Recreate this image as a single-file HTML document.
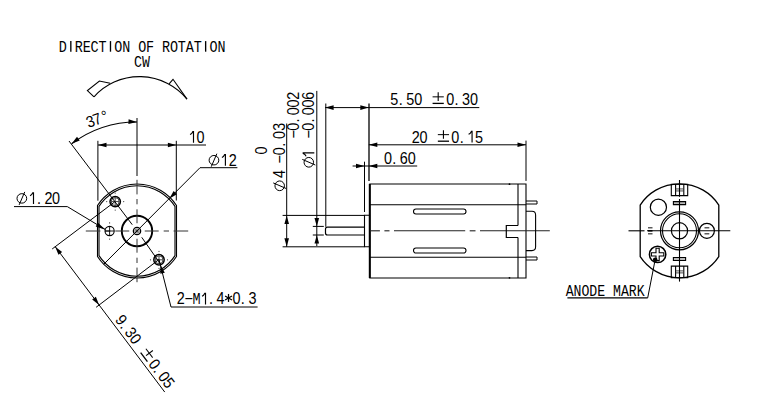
<!DOCTYPE html>
<html><head><meta charset="utf-8"><style>
html,body{margin:0;padding:0;background:#fff;width:774px;height:400px;overflow:hidden}
svg{display:block}
text{fill:#000}
</style></head><body>
<svg width="774" height="400" viewBox="0 0 774 400">
<rect width="774" height="400" fill="#fff"/>
<g transform="translate(0.00,51.70)"><text transform="translate(62.90,0) scale(0.84,1)" x="0" y="0" font-size="16" text-anchor="middle" font-family="Liberation Mono, monospace">D</text><line x1="70.83" y1="-10.6" x2="70.83" y2="0" stroke="#000" stroke-width="1.35"/><text transform="translate(78.76,0) scale(0.84,1)" x="0" y="0" font-size="16" text-anchor="middle" font-family="Liberation Mono, monospace">R</text><text transform="translate(86.69,0) scale(0.84,1)" x="0" y="0" font-size="16" text-anchor="middle" font-family="Liberation Mono, monospace">E</text><text transform="translate(94.62,0) scale(0.84,1)" x="0" y="0" font-size="16" text-anchor="middle" font-family="Liberation Mono, monospace">C</text><text transform="translate(102.55,0) scale(0.84,1)" x="0" y="0" font-size="16" text-anchor="middle" font-family="Liberation Mono, monospace">T</text><line x1="110.48" y1="-10.6" x2="110.48" y2="0" stroke="#000" stroke-width="1.35"/><text transform="translate(118.41,0) scale(0.84,1)" x="0" y="0" font-size="16" text-anchor="middle" font-family="Liberation Mono, monospace">O</text><text transform="translate(126.34,0) scale(0.84,1)" x="0" y="0" font-size="16" text-anchor="middle" font-family="Liberation Mono, monospace">N</text><text transform="translate(142.20,0) scale(0.84,1)" x="0" y="0" font-size="16" text-anchor="middle" font-family="Liberation Mono, monospace">O</text><text transform="translate(150.13,0) scale(0.84,1)" x="0" y="0" font-size="16" text-anchor="middle" font-family="Liberation Mono, monospace">F</text><text transform="translate(165.99,0) scale(0.84,1)" x="0" y="0" font-size="16" text-anchor="middle" font-family="Liberation Mono, monospace">R</text><text transform="translate(173.92,0) scale(0.84,1)" x="0" y="0" font-size="16" text-anchor="middle" font-family="Liberation Mono, monospace">O</text><text transform="translate(181.85,0) scale(0.84,1)" x="0" y="0" font-size="16" text-anchor="middle" font-family="Liberation Mono, monospace">T</text><text transform="translate(189.78,0) scale(0.84,1)" x="0" y="0" font-size="16" text-anchor="middle" font-family="Liberation Mono, monospace">A</text><text transform="translate(197.71,0) scale(0.84,1)" x="0" y="0" font-size="16" text-anchor="middle" font-family="Liberation Mono, monospace">T</text><line x1="205.64" y1="-10.6" x2="205.64" y2="0" stroke="#000" stroke-width="1.35"/><text transform="translate(213.57,0) scale(0.84,1)" x="0" y="0" font-size="16" text-anchor="middle" font-family="Liberation Mono, monospace">O</text><text transform="translate(221.50,0) scale(0.84,1)" x="0" y="0" font-size="16" text-anchor="middle" font-family="Liberation Mono, monospace">N</text></g>
<text x="134.00" y="66.90" font-size="16" text-anchor="start" font-family="Liberation Mono, monospace" textLength="15.9" lengthAdjust="spacingAndGlyphs" >CW</text>
<path d="M94,96.8 A61.36,61.36 0 0 1 187,99.1" stroke="#000" stroke-width="1.1" fill="none" />
<path d="M94,96.8 L87.4,90.6 L99.4,81 L110.2,83.3" stroke="#000" stroke-width="1.1" fill="none" />
<path d="M169.1,83.9 L173,79.3 L187,99.1" stroke="#000" stroke-width="1.1" fill="none" />
<path d="M97.50,205.53 A47,47 0 0 1 176.50,205.53 L176.50,256.47 A47,47 0 0 1 97.50,256.47 Z" stroke="#000" stroke-width="1.1" fill="none" />
<path d="M99.00,206.34 A45.3,45.3 0 0 1 175.00,206.34 L175.00,255.66 A45.3,45.3 0 0 1 99.00,255.66 Z" stroke="#000" stroke-width="1.1" fill="none" />
<circle cx="137.00" cy="231.00" r="15.20" stroke="#000" stroke-width="1.9" fill="none" />
<circle cx="137.00" cy="231.00" r="3.60" stroke="#000" stroke-width="1.4" fill="none" />
<circle cx="137.00" cy="231.00" r="2.00" stroke="#444" stroke-width="0.8" fill="none" />
<circle cx="137.00" cy="231.00" r="0.90" stroke="#000" stroke-width="0" fill="#000" />
<line x1="129.25" y1="231.00" x2="115.30" y2="231.00" stroke="#333" stroke-width="1" />
<line x1="137.00" y1="223.25" x2="137.00" y2="209.30" stroke="#333" stroke-width="1" />
<line x1="144.75" y1="231.00" x2="158.70" y2="231.00" stroke="#333" stroke-width="1" />
<line x1="137.00" y1="238.75" x2="137.00" y2="252.70" stroke="#333" stroke-width="1" />
<line x1="110.30" y1="231.00" x2="105.00" y2="231.00" stroke="#333" stroke-width="1" />
<line x1="137.00" y1="204.30" x2="137.00" y2="199.00" stroke="#333" stroke-width="1" />
<line x1="163.70" y1="231.00" x2="169.00" y2="231.00" stroke="#333" stroke-width="1" />
<line x1="137.00" y1="257.70" x2="137.00" y2="263.00" stroke="#333" stroke-width="1" />
<line x1="100.40" y1="231.00" x2="85.80" y2="231.00" stroke="#333" stroke-width="1" />
<line x1="137.00" y1="194.40" x2="137.00" y2="179.80" stroke="#333" stroke-width="1" />
<line x1="173.60" y1="231.00" x2="188.20" y2="231.00" stroke="#333" stroke-width="1" />
<line x1="137.00" y1="267.60" x2="137.00" y2="282.20" stroke="#333" stroke-width="1" />
<line x1="137.00" y1="118.00" x2="137.00" y2="176.00" stroke="#000" stroke-width="1" />
<circle cx="115.20" cy="201.60" r="5.20" stroke="#000" stroke-width="1.5" fill="none" />
<circle cx="115.20" cy="201.60" r="4.00" stroke="#444" stroke-width="1.0" fill="none" />
<line x1="111.00" y1="201.60" x2="119.40" y2="201.60" stroke="#444" stroke-width="1" />
<line x1="115.20" y1="197.40" x2="115.20" y2="205.80" stroke="#444" stroke-width="1" />
<circle cx="123.70" cy="201.60" r="0.60" stroke="#000" stroke-width="0" fill="#333" />
<circle cx="106.70" cy="201.60" r="0.60" stroke="#000" stroke-width="0" fill="#333" />
<circle cx="115.20" cy="210.10" r="0.60" stroke="#000" stroke-width="0" fill="#333" />
<circle cx="115.20" cy="193.10" r="0.60" stroke="#000" stroke-width="0" fill="#333" />
<circle cx="159.00" cy="259.80" r="5.20" stroke="#000" stroke-width="1.5" fill="none" />
<circle cx="159.00" cy="259.80" r="4.00" stroke="#444" stroke-width="1.0" fill="none" />
<line x1="154.80" y1="259.80" x2="163.20" y2="259.80" stroke="#444" stroke-width="1" />
<line x1="159.00" y1="255.60" x2="159.00" y2="264.00" stroke="#444" stroke-width="1" />
<circle cx="167.50" cy="259.80" r="0.60" stroke="#000" stroke-width="0" fill="#333" />
<circle cx="150.50" cy="259.80" r="0.60" stroke="#000" stroke-width="0" fill="#333" />
<circle cx="159.00" cy="268.30" r="0.60" stroke="#000" stroke-width="0" fill="#333" />
<circle cx="159.00" cy="251.30" r="0.60" stroke="#000" stroke-width="0" fill="#333" />
<circle cx="109.60" cy="231.00" r="4.60" stroke="#000" stroke-width="1.1" fill="none" />
<line x1="105.00" y1="231.00" x2="114.20" y2="231.00" stroke="#000" stroke-width="0.9" />
<line x1="109.60" y1="226.40" x2="109.60" y2="235.60" stroke="#000" stroke-width="0.9" />
<circle cx="109.60" cy="222.90" r="0.60" stroke="#000" stroke-width="0" fill="#333" />
<circle cx="109.60" cy="239.10" r="0.60" stroke="#000" stroke-width="0" fill="#333" />
<line x1="69.00" y1="141.00" x2="132.26" y2="224.68" stroke="#000" stroke-width="1" />
<line x1="141.74" y1="237.32" x2="160.50" y2="264.00" stroke="#000" stroke-width="1" />
<path d="M137,122 A109,109 0 0 0 71.60,143.80" stroke="#000" stroke-width="1.1" fill="none" />
<path d="M137.00,122.00 L128.41,123.96 L128.60,119.36 Z" fill="#000"/>
<path d="M71.60,143.80 L77.02,136.86 L79.78,140.54 Z" fill="#000"/>
<line x1="97.90" y1="140.80" x2="97.90" y2="200.70" stroke="#000" stroke-width="1" />
<line x1="176.30" y1="140.80" x2="176.30" y2="200.50" stroke="#000" stroke-width="1" />
<line x1="98.00" y1="145.00" x2="206.00" y2="145.00" stroke="#000" stroke-width="1" />
<path d="M98.00,145.00 L106.50,142.70 L106.50,147.30 Z" fill="#000"/>
<path d="M176.40,145.00 L167.90,147.30 L167.90,142.70 Z" fill="#000"/>
<g transform="translate(0.00,142.75)"><path d="M193.50,0 V-11.1 L192.80,-11.1 Q191.80,-8.9 190.00,-8.2" stroke="#000" stroke-width="1.15" fill="none"/><text transform="translate(200.60,0) scale(0.9,1)" x="0" y="0" font-size="16.0" text-anchor="middle" font-family="Liberation Sans, sans-serif">0</text></g>
<line x1="200.00" y1="167.70" x2="237.40" y2="167.70" stroke="#000" stroke-width="1" />
<line x1="200.00" y1="167.70" x2="103.77" y2="264.23" stroke="#000" stroke-width="1" />
<path d="M169.24,198.76 L173.63,191.12 L176.88,194.37 Z" fill="#000"/>
<g transform="translate(0.00,165.70)"><ellipse cx="213.95" cy="-5.5" rx="4.85" ry="4.75" fill="none" stroke="#000" stroke-width="1.0"/><line x1="211.25" y1="1.0" x2="216.85" y2="-12.0" stroke="#000" stroke-width="1.0"/><path d="M225.40,0 V-11.1 L224.70,-11.1 Q223.70,-8.9 221.90,-8.2" stroke="#000" stroke-width="1.15" fill="none"/><text transform="translate(232.85,0) scale(0.9,1)" x="0" y="0" font-size="16.0" text-anchor="middle" font-family="Liberation Sans, sans-serif">2</text></g>
<line x1="14.00" y1="206.60" x2="67.30" y2="206.60" stroke="#000" stroke-width="1" />
<line x1="67.30" y1="206.60" x2="105.00" y2="229.30" stroke="#000" stroke-width="1" />
<path d="M105.40,229.80 L95.70,226.53 L97.97,222.76 Z" fill="#000"/>
<g transform="translate(0.00,203.90)"><ellipse cx="21.85" cy="-5.5" rx="4.85" ry="4.75" fill="none" stroke="#000" stroke-width="1.0"/><line x1="19.15" y1="1.0" x2="24.75" y2="-12.0" stroke="#000" stroke-width="1.0"/><path d="M33.50,0 V-11.1 L32.80,-11.1 Q31.80,-8.9 30.00,-8.2" stroke="#000" stroke-width="1.15" fill="none"/><text transform="translate(39.10,0) scale(0.9,1)" x="0" y="0" font-size="16.0" text-anchor="middle" font-family="Liberation Sans, sans-serif">.</text><text transform="translate(48.60,0) scale(0.9,1)" x="0" y="0" font-size="16.0" text-anchor="middle" font-family="Liberation Sans, sans-serif">2</text><text transform="translate(56.10,0) scale(0.9,1)" x="0" y="0" font-size="16.0" text-anchor="middle" font-family="Liberation Sans, sans-serif">0</text></g>
<line x1="55.20" y1="246.70" x2="164.73" y2="392.05" stroke="#000" stroke-width="1" />
<line x1="52.17" y1="248.99" x2="114.80" y2="201.80" stroke="#000" stroke-width="1" />
<line x1="96.10" y1="307.29" x2="159.00" y2="259.50" stroke="#000" stroke-width="1" />
<path d="M55.20,246.70 L62.15,252.10 L58.48,254.87 Z" fill="#000"/>
<path d="M99.13,305.00 L92.18,299.60 L95.85,296.83 Z" fill="#000"/>
<g transform="translate(55.20,246.70) rotate(53.000)"><g transform="translate(0.00,-3.20)"><text transform="translate(98.20,0) scale(0.9,1)" x="0" y="0" font-size="16.0" text-anchor="middle" font-family="Liberation Sans, sans-serif">9</text><text transform="translate(104.50,0) scale(0.9,1)" x="0" y="0" font-size="16.0" text-anchor="middle" font-family="Liberation Sans, sans-serif">.</text><text transform="translate(114.00,0) scale(0.9,1)" x="0" y="0" font-size="16.0" text-anchor="middle" font-family="Liberation Sans, sans-serif">3</text><text transform="translate(121.90,0) scale(0.9,1)" x="0" y="0" font-size="16.0" text-anchor="middle" font-family="Liberation Sans, sans-serif">0</text><line x1="136.05" y1="-7.85" x2="147.25" y2="-7.85" stroke="#000" stroke-width="1"/><line x1="141.65" y1="-12.35" x2="141.65" y2="-3.8" stroke="#000" stroke-width="1.1"/><line x1="136.05" y1="-1.3" x2="147.25" y2="-1.3" stroke="#000" stroke-width="1.3"/><text transform="translate(153.50,0) scale(0.9,1)" x="0" y="0" font-size="16.0" text-anchor="middle" font-family="Liberation Sans, sans-serif">0</text><text transform="translate(159.80,0) scale(0.9,1)" x="0" y="0" font-size="16.0" text-anchor="middle" font-family="Liberation Sans, sans-serif">.</text><text transform="translate(169.30,0) scale(0.9,1)" x="0" y="0" font-size="16.0" text-anchor="middle" font-family="Liberation Sans, sans-serif">0</text><text transform="translate(177.20,0) scale(0.9,1)" x="0" y="0" font-size="16.0" text-anchor="middle" font-family="Liberation Sans, sans-serif">5</text></g></g>
<g transform="translate(89.40,127.60) rotate(-20.000)"><text transform="translate(3.00,0) scale(0.9,1)" x="0" y="0" font-size="16.0" text-anchor="middle" font-family="Liberation Sans, sans-serif">3</text><text transform="translate(10.30,0) scale(0.9,1)" x="0" y="0" font-size="16.0" text-anchor="middle" font-family="Liberation Sans, sans-serif">7</text><text transform="translate(18.40,0) scale(0.9,1)" x="0" y="0" font-size="16.0" text-anchor="middle" font-family="Liberation Sans, sans-serif">°</text></g>
<line x1="159.00" y1="259.50" x2="171.00" y2="307.00" stroke="#000" stroke-width="1" />
<line x1="171.00" y1="307.00" x2="257.60" y2="307.00" stroke="#000" stroke-width="1" />
<path d="M160.50,265.00 L164.81,272.68 L160.35,273.80 Z" fill="#000"/>
<g transform="translate(0.00,304.40)"><text transform="translate(180.70,0) scale(0.9,1)" x="0" y="0" font-size="16.0" text-anchor="middle" font-family="Liberation Sans, sans-serif">2</text><text transform="translate(188.67,0) scale(0.9,1)" x="0" y="0" font-size="16.0" text-anchor="middle" font-family="Liberation Sans, sans-serif">−</text><text transform="translate(196.64,0) scale(0.84,1)" x="0" y="0" font-size="16" text-anchor="middle" font-family="Liberation Mono, monospace">M</text><path d="M205.51,0 V-11.1 L204.81,-11.1 Q203.81,-8.9 202.01,-8.2" stroke="#000" stroke-width="1.15" fill="none"/><text transform="translate(210.98,0) scale(0.9,1)" x="0" y="0" font-size="16.0" text-anchor="middle" font-family="Liberation Sans, sans-serif">.</text><text transform="translate(220.55,0) scale(0.9,1)" x="0" y="0" font-size="16.0" text-anchor="middle" font-family="Liberation Sans, sans-serif">4</text><line x1="228.52" y1="-10.45" x2="228.52" y2="-2.45" stroke="#000" stroke-width="1.25"/><line x1="225.06" y1="-8.45" x2="231.98" y2="-4.45" stroke="#000" stroke-width="1.25"/><line x1="231.98" y1="-8.45" x2="225.06" y2="-4.45" stroke="#000" stroke-width="1.25"/><text transform="translate(236.49,0) scale(0.9,1)" x="0" y="0" font-size="16.0" text-anchor="middle" font-family="Liberation Sans, sans-serif">0</text><text transform="translate(242.86,0) scale(0.9,1)" x="0" y="0" font-size="16.0" text-anchor="middle" font-family="Liberation Sans, sans-serif">.</text><text transform="translate(252.43,0) scale(0.9,1)" x="0" y="0" font-size="16.0" text-anchor="middle" font-family="Liberation Sans, sans-serif">3</text></g>
<line x1="286.70" y1="123.50" x2="286.70" y2="246.80" stroke="#000" stroke-width="1" />
<path d="M286.70,215.40 L289.00,223.90 L284.40,223.90 Z" fill="#000"/>
<path d="M286.70,246.80 L284.40,238.30 L289.00,238.30 Z" fill="#000"/>
<line x1="282.60" y1="215.40" x2="364.50" y2="215.40" stroke="#000" stroke-width="1" />
<line x1="282.60" y1="246.80" x2="364.50" y2="246.80" stroke="#000" stroke-width="1" />
<line x1="316.80" y1="90.90" x2="316.80" y2="246.00" stroke="#000" stroke-width="1" />
<path d="M316.80,226.40 L314.50,217.90 L319.10,217.90 Z" fill="#000"/>
<path d="M316.80,235.00 L319.10,243.50 L314.50,243.50 Z" fill="#000"/>
<line x1="312.80" y1="226.40" x2="323.80" y2="226.40" stroke="#000" stroke-width="1" />
<line x1="312.80" y1="235.00" x2="323.80" y2="235.00" stroke="#000" stroke-width="1" />
<line x1="325.80" y1="103.50" x2="325.80" y2="226.80" stroke="#000" stroke-width="1" />
<g transform="translate(285.20,200.00) rotate(-90.000)"><text transform="translate(40.60,0) scale(0.9,1)" x="0" y="0" font-size="16.0" text-anchor="middle" font-family="Liberation Sans, sans-serif">−</text><text transform="translate(48.75,0) scale(0.9,1)" x="0" y="0" font-size="16.0" text-anchor="middle" font-family="Liberation Sans, sans-serif">0</text><text transform="translate(55.30,0) scale(0.9,1)" x="0" y="0" font-size="16.0" text-anchor="middle" font-family="Liberation Sans, sans-serif">.</text><text transform="translate(65.05,0) scale(0.9,1)" x="0" y="0" font-size="16.0" text-anchor="middle" font-family="Liberation Sans, sans-serif">0</text><text transform="translate(73.20,0) scale(0.9,1)" x="0" y="0" font-size="16.0" text-anchor="middle" font-family="Liberation Sans, sans-serif">3</text><ellipse cx="14.20" cy="-5.5" rx="4.85" ry="4.75" fill="none" stroke="#000" stroke-width="1.0"/><line x1="11.50" y1="1.0" x2="17.10" y2="-12.0" stroke="#000" stroke-width="1.0"/><text transform="translate(26.00,0) scale(0.9,1)" x="0" y="0" font-size="16.0" text-anchor="middle" font-family="Liberation Sans, sans-serif">4</text></g>
<g transform="translate(266.60,200.00) rotate(-90.000)"><text transform="translate(49.40,0) scale(0.9,1)" x="0" y="0" font-size="16.0" text-anchor="middle" font-family="Liberation Sans, sans-serif">0</text></g>
<g transform="translate(299.20,200.00) rotate(-90.000)"><text transform="translate(65.60,0) scale(0.9,1)" x="0" y="0" font-size="16.0" text-anchor="middle" font-family="Liberation Sans, sans-serif">−</text><text transform="translate(73.34,0) scale(0.9,1)" x="0" y="0" font-size="16.0" text-anchor="middle" font-family="Liberation Sans, sans-serif">0</text><text transform="translate(79.48,0) scale(0.9,1)" x="0" y="0" font-size="16.0" text-anchor="middle" font-family="Liberation Sans, sans-serif">.</text><text transform="translate(88.82,0) scale(0.9,1)" x="0" y="0" font-size="16.0" text-anchor="middle" font-family="Liberation Sans, sans-serif">0</text><text transform="translate(96.56,0) scale(0.9,1)" x="0" y="0" font-size="16.0" text-anchor="middle" font-family="Liberation Sans, sans-serif">0</text><text transform="translate(104.30,0) scale(0.9,1)" x="0" y="0" font-size="16.0" text-anchor="middle" font-family="Liberation Sans, sans-serif">2</text></g>
<g transform="translate(314.30,200.00) rotate(-90.000)"><text transform="translate(65.60,0) scale(0.9,1)" x="0" y="0" font-size="16.0" text-anchor="middle" font-family="Liberation Sans, sans-serif">−</text><text transform="translate(73.34,0) scale(0.9,1)" x="0" y="0" font-size="16.0" text-anchor="middle" font-family="Liberation Sans, sans-serif">0</text><text transform="translate(79.48,0) scale(0.9,1)" x="0" y="0" font-size="16.0" text-anchor="middle" font-family="Liberation Sans, sans-serif">.</text><text transform="translate(88.82,0) scale(0.9,1)" x="0" y="0" font-size="16.0" text-anchor="middle" font-family="Liberation Sans, sans-serif">0</text><text transform="translate(96.56,0) scale(0.9,1)" x="0" y="0" font-size="16.0" text-anchor="middle" font-family="Liberation Sans, sans-serif">0</text><text transform="translate(104.30,0) scale(0.9,1)" x="0" y="0" font-size="16.0" text-anchor="middle" font-family="Liberation Sans, sans-serif">6</text><ellipse cx="37.70" cy="-5.5" rx="4.85" ry="4.75" fill="none" stroke="#000" stroke-width="1.0"/><line x1="35.00" y1="1.0" x2="40.60" y2="-12.0" stroke="#000" stroke-width="1.0"/><path d="M47.20,0 V-11.1 L46.50,-11.1 Q45.50,-8.9 43.70,-8.2" stroke="#000" stroke-width="1.15" fill="none"/></g>
<path d="M364.5,227.2 L327.5,227.2 Q325.5,227.2 325.5,229.2 L325.5,233 Q325.5,235 327.5,235 L364.5,235" stroke="#000" stroke-width="1.2" fill="none" />
<path d="M364.5,215.3 L369.5,215.3 L369.5,246.8 L364.5,246.8 Z" stroke="#000" stroke-width="1.1" fill="none" />
<line x1="364.50" y1="161.70" x2="364.50" y2="212.00" stroke="#000" stroke-width="1" />
<line x1="369.00" y1="103.60" x2="369.00" y2="181.00" stroke="#000" stroke-width="1.3" />
<line x1="325.10" y1="107.60" x2="479.30" y2="107.60" stroke="#000" stroke-width="1" />
<path d="M325.10,107.60 L333.60,105.30 L333.60,109.90 Z" fill="#000"/>
<path d="M368.80,107.60 L360.30,109.90 L360.30,105.30 Z" fill="#000"/>
<g transform="translate(0.00,104.70)"><text transform="translate(394.35,0) scale(0.9,1)" x="0" y="0" font-size="16.0" text-anchor="middle" font-family="Liberation Sans, sans-serif">5</text><text transform="translate(400.72,0) scale(0.9,1)" x="0" y="0" font-size="16.0" text-anchor="middle" font-family="Liberation Sans, sans-serif">.</text><text transform="translate(410.29,0) scale(0.9,1)" x="0" y="0" font-size="16.0" text-anchor="middle" font-family="Liberation Sans, sans-serif">5</text><text transform="translate(418.26,0) scale(0.9,1)" x="0" y="0" font-size="16.0" text-anchor="middle" font-family="Liberation Sans, sans-serif">0</text><line x1="432.58" y1="-7.85" x2="443.79" y2="-7.85" stroke="#000" stroke-width="1"/><line x1="438.19" y1="-12.35" x2="438.19" y2="-3.8" stroke="#000" stroke-width="1.1"/><line x1="432.58" y1="-1.3" x2="443.79" y2="-1.3" stroke="#000" stroke-width="1.3"/><text transform="translate(450.14,0) scale(0.9,1)" x="0" y="0" font-size="16.0" text-anchor="middle" font-family="Liberation Sans, sans-serif">0</text><text transform="translate(456.51,0) scale(0.9,1)" x="0" y="0" font-size="16.0" text-anchor="middle" font-family="Liberation Sans, sans-serif">.</text><text transform="translate(466.08,0) scale(0.9,1)" x="0" y="0" font-size="16.0" text-anchor="middle" font-family="Liberation Sans, sans-serif">3</text><text transform="translate(474.05,0) scale(0.9,1)" x="0" y="0" font-size="16.0" text-anchor="middle" font-family="Liberation Sans, sans-serif">0</text></g>
<line x1="368.80" y1="144.80" x2="526.00" y2="144.80" stroke="#000" stroke-width="1" />
<path d="M368.80,144.80 L377.30,142.50 L377.30,147.10 Z" fill="#000"/>
<path d="M526.00,144.80 L517.50,147.10 L517.50,142.50 Z" fill="#000"/>
<g transform="translate(0.00,142.50)"><text transform="translate(415.70,0) scale(0.9,1)" x="0" y="0" font-size="16.0" text-anchor="middle" font-family="Liberation Sans, sans-serif">2</text><text transform="translate(423.62,0) scale(0.9,1)" x="0" y="0" font-size="16.0" text-anchor="middle" font-family="Liberation Sans, sans-serif">0</text><line x1="437.84" y1="-7.85" x2="449.04" y2="-7.85" stroke="#000" stroke-width="1"/><line x1="443.44" y1="-12.35" x2="443.44" y2="-3.8" stroke="#000" stroke-width="1.1"/><line x1="437.84" y1="-1.3" x2="449.04" y2="-1.3" stroke="#000" stroke-width="1.3"/><text transform="translate(455.32,0) scale(0.9,1)" x="0" y="0" font-size="16.0" text-anchor="middle" font-family="Liberation Sans, sans-serif">0</text><text transform="translate(461.65,0) scale(0.9,1)" x="0" y="0" font-size="16.0" text-anchor="middle" font-family="Liberation Sans, sans-serif">.</text><path d="M472.07,0 V-11.1 L471.38,-11.1 Q470.38,-8.9 468.57,-8.2" stroke="#000" stroke-width="1.15" fill="none"/><text transform="translate(479.10,0) scale(0.9,1)" x="0" y="0" font-size="16.0" text-anchor="middle" font-family="Liberation Sans, sans-serif">5</text></g>
<line x1="352.60" y1="166.00" x2="417.20" y2="166.00" stroke="#000" stroke-width="1" />
<path d="M364.50,166.00 L356.00,168.30 L356.00,163.70 Z" fill="#000"/>
<path d="M368.80,166.00 L377.30,163.70 L377.30,168.30 Z" fill="#000"/>
<g transform="translate(0.00,163.80)"><text transform="translate(387.90,0) scale(0.9,1)" x="0" y="0" font-size="16.0" text-anchor="middle" font-family="Liberation Sans, sans-serif">0</text><text transform="translate(394.27,0) scale(0.9,1)" x="0" y="0" font-size="16.0" text-anchor="middle" font-family="Liberation Sans, sans-serif">.</text><text transform="translate(403.84,0) scale(0.9,1)" x="0" y="0" font-size="16.0" text-anchor="middle" font-family="Liberation Sans, sans-serif">6</text><text transform="translate(411.81,0) scale(0.9,1)" x="0" y="0" font-size="16.0" text-anchor="middle" font-family="Liberation Sans, sans-serif">0</text></g>
<line x1="526.00" y1="140.60" x2="526.00" y2="180.90" stroke="#000" stroke-width="1" />
<path d="M369.8,184 L526,184 L526,278 L369.8,278 Z" stroke="#000" stroke-width="1.1" fill="none" />
<circle cx="509.50" cy="184.20" r="0.90" stroke="#000" stroke-width="0" fill="#000" />
<circle cx="509.50" cy="277.80" r="0.90" stroke="#000" stroke-width="0" fill="#000" />
<line x1="369.80" y1="184.00" x2="369.80" y2="278.00" stroke="#000" stroke-width="2" />
<line x1="518.00" y1="184.00" x2="518.00" y2="225.50" stroke="#000" stroke-width="1.1" />
<line x1="518.00" y1="237.50" x2="518.00" y2="278.00" stroke="#000" stroke-width="1.1" />
<line x1="369.80" y1="204.80" x2="526.00" y2="204.80" stroke="#000" stroke-width="1.1" />
<line x1="369.80" y1="257.20" x2="526.00" y2="257.20" stroke="#000" stroke-width="1.1" />
<path d="M416,209 L463.5,209 A2.5,2.5 0 0 1 463.5,214 L416,214 A2.5,2.5 0 0 1 416,209 Z" stroke="#000" stroke-width="1.1" fill="none" />
<path d="M416,248 L463.5,248 A2.5,2.5 0 0 1 463.5,253 L416,253 A2.5,2.5 0 0 1 416,248 Z" stroke="#000" stroke-width="1.1" fill="none" />
<line x1="370.20" y1="230.80" x2="379.90" y2="230.80" stroke="#222" stroke-width="1.1" />
<line x1="384.40" y1="230.80" x2="389.50" y2="230.80" stroke="#222" stroke-width="1.1" />
<line x1="394.00" y1="230.80" x2="465.20" y2="230.80" stroke="#222" stroke-width="1.1" />
<line x1="469.70" y1="230.80" x2="475.50" y2="230.80" stroke="#222" stroke-width="1.1" />
<line x1="480.00" y1="230.80" x2="549.80" y2="230.80" stroke="#222" stroke-width="1.1" />
<path d="M518,225.5 L506.3,225.5 L506.3,237.5 L518,237.5" stroke="#000" stroke-width="1.2" fill="none" />
<path d="M526,201 L537,201 L537,204 L526,204" stroke="#000" stroke-width="1" fill="none" />
<path d="M526,257 L537,257 L537,260 L526,260" stroke="#000" stroke-width="1" fill="none" />
<path d="M526,211.2 L532,211.2 Q535.6,211.2 535.6,215 L535.6,246.8 Q535.6,250.6 532,250.6 L526,250.6" stroke="#000" stroke-width="1.1" fill="none" />
<path d="M640.20,205.02 A47,47 0 0 1 718.80,205.02 L718.80,256.58 A47,47 0 0 1 640.20,256.58 Z" stroke="#000" stroke-width="1.3" fill="none" />
<circle cx="679.50" cy="230.80" r="19.00" stroke="#000" stroke-width="1.2" fill="none" />
<circle cx="679.50" cy="230.80" r="17.00" stroke="#000" stroke-width="1.1" fill="none" />
<circle cx="679.50" cy="230.80" r="8.10" stroke="#000" stroke-width="1.2" fill="none" />
<circle cx="658.40" cy="207.20" r="8.10" stroke="#000" stroke-width="1.2" fill="none" />
<circle cx="706.90" cy="230.80" r="7.50" stroke="#000" stroke-width="1.2" fill="none" />
<line x1="704.50" y1="227.80" x2="709.30" y2="227.80" stroke="#333" stroke-width="1.2" />
<line x1="704.50" y1="233.80" x2="709.30" y2="233.80" stroke="#333" stroke-width="1.2" />
<circle cx="657.60" cy="254.40" r="8.20" stroke="#000" stroke-width="1.5" fill="none" />
<path d="M656.0,248.2 h3.2 v4.6 h4.6 v3.2 h-4.6 v4.6 h-3.2 v-4.6 h-4.6 v-3.2 h4.6 Z" stroke="#000" stroke-width="1.1" fill="none" />
<path d="M671.3,184.3 L687.7,184.3 L687.7,195.6 L671.3,195.6 Z" stroke="#000" stroke-width="1.1" fill="none" />
<line x1="675.60" y1="184.30" x2="675.60" y2="195.60" stroke="#000" stroke-width="1.1" />
<line x1="683.80" y1="184.30" x2="683.80" y2="195.60" stroke="#000" stroke-width="1.1" />
<line x1="675.60" y1="188.95" x2="683.80" y2="188.95" stroke="#333" stroke-width="0.9" />
<line x1="675.60" y1="190.95" x2="683.80" y2="190.95" stroke="#333" stroke-width="0.9" />
<path d="M671.3,266.1 L687.7,266.1 L687.7,277.7 L671.3,277.7 Z" stroke="#000" stroke-width="1.1" fill="none" />
<line x1="675.60" y1="266.10" x2="675.60" y2="277.70" stroke="#000" stroke-width="1.1" />
<line x1="683.80" y1="266.10" x2="683.80" y2="277.70" stroke="#000" stroke-width="1.1" />
<line x1="675.60" y1="270.90" x2="683.80" y2="270.90" stroke="#333" stroke-width="0.9" />
<line x1="675.60" y1="272.90" x2="683.80" y2="272.90" stroke="#333" stroke-width="0.9" />
<path d="M673.4,201.6 L685.6,201.6 L685.6,204.6 L673.4,204.6 Z" stroke="#000" stroke-width="1.1" fill="#bbb" />
<path d="M673.4,257.5 L685.6,257.5 L685.6,260.5 L673.4,260.5 Z" stroke="#000" stroke-width="1.1" fill="#bbb" />
<line x1="648.00" y1="227.80" x2="652.50" y2="227.80" stroke="#333" stroke-width="1.2" />
<line x1="648.00" y1="233.80" x2="652.50" y2="233.80" stroke="#333" stroke-width="1.2" />
<line x1="628.50" y1="230.80" x2="644.50" y2="230.80" stroke="#000" stroke-width="1.1" />
<line x1="647.00" y1="230.80" x2="730.30" y2="230.80" stroke="#000" stroke-width="1.1" />
<line x1="648.00" y1="230.80" x2="652.50" y2="230.80" stroke="#000" stroke-width="1.6" />
<line x1="679.50" y1="180.00" x2="679.50" y2="196.80" stroke="#000" stroke-width="1.1" />
<line x1="679.50" y1="199.00" x2="679.50" y2="281.60" stroke="#000" stroke-width="1.1" />
<line x1="647.70" y1="297.90" x2="655.10" y2="260.00" stroke="#000" stroke-width="1" />
<circle cx="655.20" cy="259.80" r="2.30" stroke="#000" stroke-width="0" fill="#000" />
<line x1="567.40" y1="297.90" x2="647.70" y2="297.90" stroke="#000" stroke-width="1.3" />
<text x="565.65" y="295.70" font-size="16" text-anchor="start" font-family="Liberation Mono, monospace" textLength="79" lengthAdjust="spacingAndGlyphs" >ANODE MARK</text>
</svg></body></html>
